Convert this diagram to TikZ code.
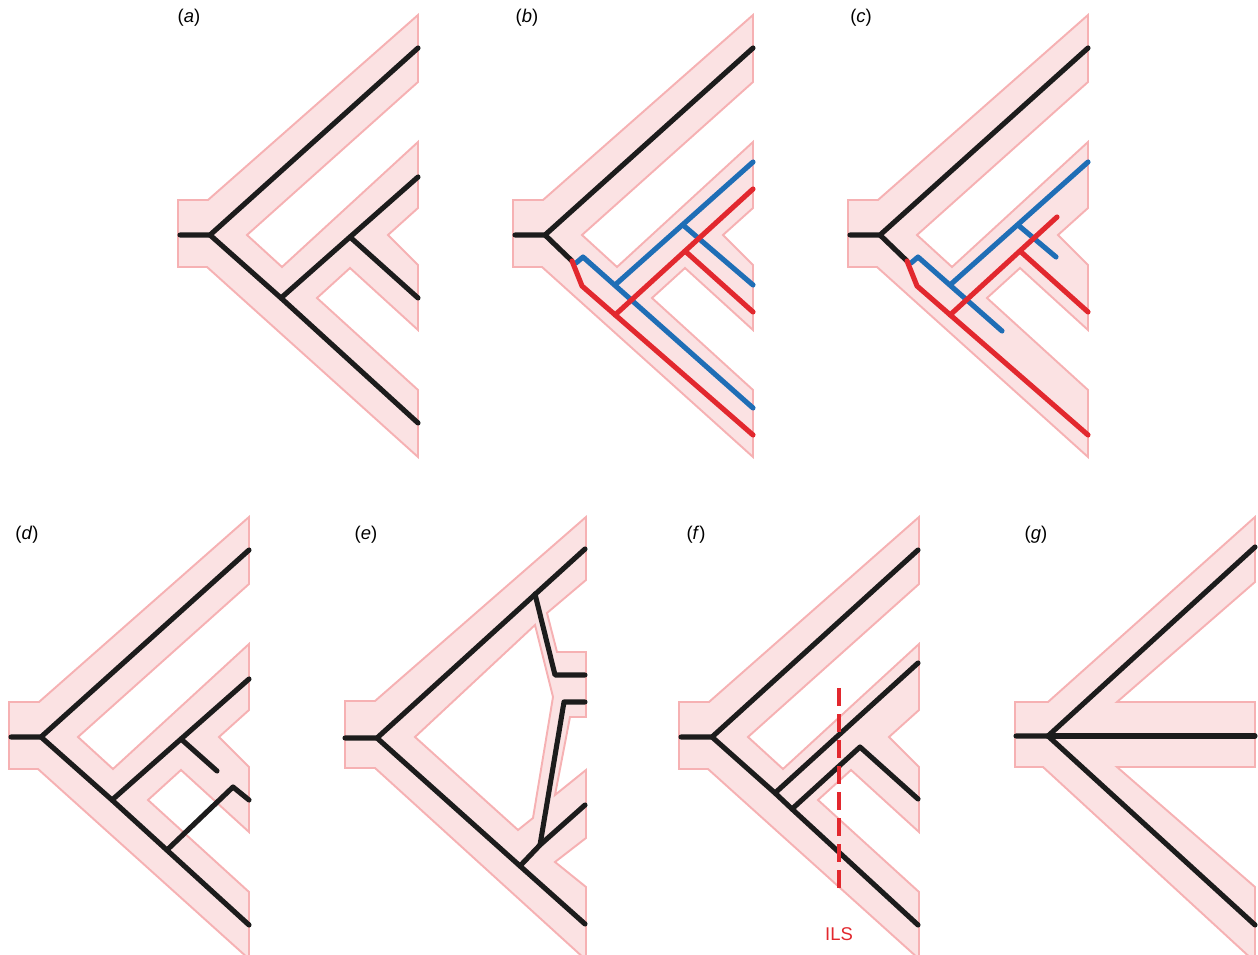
\documentclass[tikz,border=0pt]{standalone}
\usepackage{fontspec}
\setmainfont{Liberation Sans}
\definecolor{spfill}{HTML}{FBE2E3}
\definecolor{spdraw}{HTML}{F6B1B3}
\definecolor{gblack}{HTML}{1C1C1C}
\definecolor{gblue}{HTML}{1F6EB6}
\definecolor{gred}{HTML}{E2282E}
\tikzset{
  species/.style={fill=spfill, draw=spdraw, line width=1.1pt, line join=miter},
  gene/.style={line width=2.9pt, line cap=round, line join=round, draw=gblack},
  bluegene/.style={gene, draw=gblue},
  redgene/.style={gene, draw=gred},
  ilsline/.style={draw=gred, line width=2.3pt, dash pattern=on 10.2pt off 4.6pt},
  panellabel/.style={font=\fontsize{10.5}{12}\selectfont, inner sep=0pt},
}
\newcommand{\spTreeStd}{%
  \path[species] (178,200) -- (208,200) -- (418,15) -- (418,82) -- (247,235) -- (282,267)
    -- (418,142) -- (418,208) -- (388,235) -- (418,265) -- (418,330) -- (350,268)
    -- (317,298) -- (418,390) -- (418,457) -- (207,267) -- (178,267) -- cycle;}
\begin{document}
\begin{tikzpicture}[x=0.02cm, y=-0.02cm]
\useasboundingbox (0,0) rectangle (1258,955);
\clip (0,0) rectangle (1258,955);

% ---------------- (a)
\begin{scope}
  \spTreeStd
  \coordinate (a-r) at (180,235); \coordinate (a-n0) at (210,235);
  \coordinate (a-A) at (418,48);  \coordinate (a-n1) at (281,298);
  \coordinate (a-D) at (418,423); \coordinate (a-n2) at (350,237);
  \coordinate (a-B) at (418,177); \coordinate (a-C) at (418,298);
  \draw[gene] (a-r) -- (a-n0) -- (a-A);
  \draw[gene] (a-n0) -- (a-n1) -- (a-D);
  \draw[gene] (a-n1) -- (a-n2) -- (a-B);
  \draw[gene] (a-n2) -- (a-C);
\end{scope}

% ---------------- (b)
\begin{scope}[shift={(335,0)}]
  \spTreeStd
  \coordinate (b-r) at (180,235); \coordinate (b-n0) at (210,235);
  \coordinate (b-A) at (418,48);  \coordinate (b-k) at (237,261);
  \coordinate (b-bs) at (241,263); \coordinate (b-bc) at (248,257);
  \coordinate (b-bD) at (418,408); \coordinate (b-bn1) at (280,285);
  \coordinate (b-bB) at (418,162); \coordinate (b-bn2) at (348,225);
  \coordinate (b-bC) at (418,285);
  \coordinate (b-rc) at (247,286); \coordinate (b-rD) at (418,435);
  \coordinate (b-rn1) at (280,315); \coordinate (b-rB) at (418,189);
  \coordinate (b-rn2) at (350,251); \coordinate (b-rC) at (418,312);
  \draw[gene] (b-r) -- (b-n0) -- (b-A);
  \draw[gene] (b-n0) -- (b-k);
  \draw[bluegene] (b-bs) -- (b-bc) -- (b-bD);
  \draw[bluegene] (b-bn1) -- (b-bB);
  \draw[bluegene] (b-bn2) -- (b-bC);
  \draw[redgene] (b-k) -- (b-rc) -- (b-rD);
  \draw[redgene] (b-rn1) -- (b-rB);
  \draw[redgene] (b-rn2) -- (b-rC);
\end{scope}

% ---------------- (c)
\begin{scope}[shift={(670,0)}]
  \spTreeStd
  \coordinate (c-r) at (180,235); \coordinate (c-n0) at (210,235);
  \coordinate (c-A) at (418,48);  \coordinate (c-k) at (237,261);
  \coordinate (c-bs) at (241,263); \coordinate (c-bc) at (248,257);
  \coordinate (c-bD) at (332,331); \coordinate (c-bn1) at (280,285);
  \coordinate (c-bB) at (418,162); \coordinate (c-bn2) at (348,225);
  \coordinate (c-bC) at (386,257);
  \coordinate (c-rc) at (247,286); \coordinate (c-rD) at (418,435);
  \coordinate (c-rn1) at (280,315); \coordinate (c-rB) at (387,217);
  \coordinate (c-rn2) at (350,251); \coordinate (c-rC) at (418,312);
  \draw[gene] (c-r) -- (c-n0) -- (c-A);
  \draw[gene] (c-n0) -- (c-k);
  \draw[bluegene] (c-bs) -- (c-bc) -- (c-bD);
  \draw[bluegene] (c-bn1) -- (c-bB);
  \draw[bluegene] (c-bn2) -- (c-bC);
  \draw[redgene] (c-k) -- (c-rc) -- (c-rD);
  \draw[redgene] (c-rn1) -- (c-rB);
  \draw[redgene] (c-rn2) -- (c-rC);
\end{scope}

% ---------------- (d)
\begin{scope}[shift={(-169,502)}]
  \spTreeStd
  \coordinate (d-r) at (180,235); \coordinate (d-n0) at (210,235);
  \coordinate (d-A) at (418,48);  \coordinate (d-n1) at (281,298);
  \coordinate (d-D) at (418,423); \coordinate (d-n2) at (350,237);
  \coordinate (d-B) at (418,177); \coordinate (d-C) at (386,269);
  \coordinate (d-n3) at (336,348); \coordinate (d-m) at (402,285);
  \coordinate (d-E) at (418,298);
  \draw[gene] (d-r) -- (d-n0) -- (d-A);
  \draw[gene] (d-n0) -- (d-n1) -- (d-D);
  \draw[gene] (d-n1) -- (d-n2) -- (d-B);
  \draw[gene] (d-n2) -- (d-C);
  \draw[gene] (d-n3) -- (d-m) -- (d-E);
\end{scope}

% ---------------- (e)
\begin{scope}
  \path[species, even odd rule]
    (345,701) -- (375,701) -- (586,517) -- (586,580) -- (547,613) -- (557,652)
    -- (586,652) -- (586,717) -- (570,717) -- (555,795) -- (586,770) -- (586,838)
    -- (555,862) -- (586,887) -- (586,960) -- (375,768) -- (345,768) -- cycle
    (415,737) -- (535,625) -- (553,697) -- (533,818) -- (518,830) -- cycle;
  \coordinate (e-r) at (345,738); \coordinate (e-n0) at (377,738);
  \coordinate (e-A) at (585,549); \coordinate (e-D) at (585,924);
  \coordinate (e-u) at (535,594); \coordinate (e-uc) at (555,675);
  \coordinate (e-B) at (585,675);
  \coordinate (e-l) at (520,866); \coordinate (e-F) at (585,805);
  \coordinate (e-m) at (540,845); \coordinate (e-mc) at (564,702);
  \coordinate (e-C) at (585,702);
  \draw[gene] (e-r) -- (e-n0) -- (e-A);
  \draw[gene] (e-n0) -- (e-l) -- (e-D);
  \draw[gene] (e-u) -- (e-uc) -- (e-B);
  \draw[gene] (e-l) -- (e-m) -- (e-F);
  \draw[gene] (e-m) -- (e-mc) -- (e-C);
\end{scope}

% ---------------- (f)
\begin{scope}[shift={(501,502)}]
  \spTreeStd
  \coordinate (f-r) at (180,235); \coordinate (f-n0) at (211,235);
  \coordinate (f-A) at (417,48);  \coordinate (f-n1) at (274,291);
  \coordinate (f-n2) at (291,307); \coordinate (f-D) at (417,423);
  \coordinate (f-B) at (417,161); \coordinate (f-m) at (359,245);
  \coordinate (f-C) at (417,297);
  \draw[gene] (f-r) -- (f-n0) -- (f-A);
  \draw[gene] (f-n0) -- (f-n1) -- (f-n2) -- (f-D);
  \draw[gene] (f-n1) -- (f-B);
  \draw[gene] (f-n2) -- (f-m) -- (f-C);
\end{scope}
\coordinate (ils-top) at (839,688);
\coordinate (ils-bot) at (839,894);
\draw[ilsline] (ils-top) -- (ils-bot);
\node[panellabel, text=gred] (ils) at (839,934) {ILS};

% ---------------- (g)
\begin{scope}
  \path[species]
    (1015,702) -- (1048,702) -- (1255,517) -- (1255,582) -- (1117,702) -- (1255,702)
    -- (1255,767) -- (1117,767) -- (1255,887) -- (1255,962) -- (1043,767) -- (1015,767) -- cycle;
  \coordinate (g-r) at (1016,736); \coordinate (g-n0) at (1048,736);
  \coordinate (g-A) at (1255,547); \coordinate (g-B) at (1255,736);
  \coordinate (g-C) at (1255,925);
  \draw[gene] (g-r) -- (g-n0) -- (g-A);
  \draw[gene] (g-n0) -- (g-B);
  \draw[gene] (g-n0) -- (g-C);
\end{scope}

% ---------------- labels
\node[panellabel] (la) at (189,18) {(\textit{a})};
\node[panellabel] (lb) at (527,18) {(\textit{b})};
\node[panellabel] (lc) at (861,18) {(\textit{c})};
\node[panellabel] (ld) at (27,535) {(\textit{d})};
\node[panellabel] (le) at (366,535) {(\textit{e})};
\node[panellabel] (lf) at (696,535) {(\textit{f})};
\node[panellabel] (lg) at (1036,535) {(\textit{g})};
\end{tikzpicture}
\end{document}
